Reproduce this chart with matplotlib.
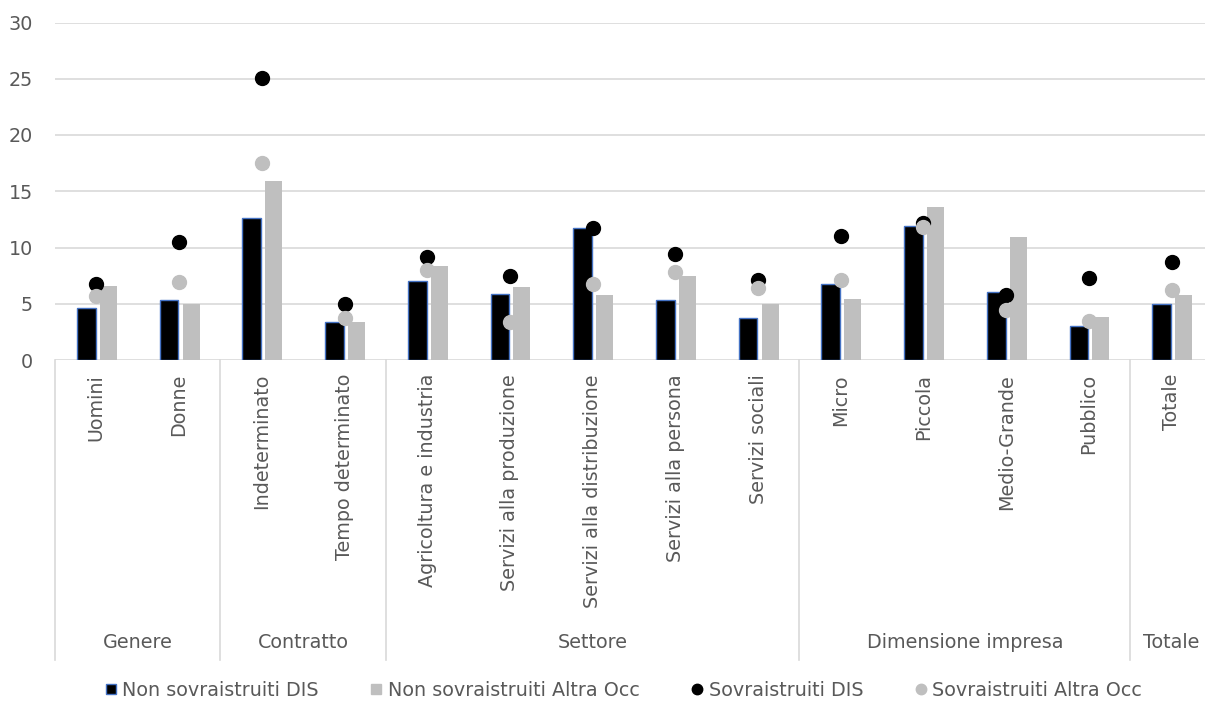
import matplotlib
matplotlib.use("Agg")
import matplotlib.pyplot as plt
from matplotlib.lines import Line2D
import numpy as np

categories = ["Uomini", "Donne", "Indeterminato", "Tempo determinato",
              "Agricoltura e industria", "Servizi alla produzione",
              "Servizi alla distribuzione", "Servizi alla persona", "Servizi sociali",
              "Micro", "Piccola", "Medio-Grande", "Pubblico", "Totale"]
groups = ["Genere", "Contratto", "Settore", "Dimensione impresa", "Totale"]
group_sizes = [2, 2, 5, 4, 1]

non_sovr_dis = [4.6, 5.35, 12.65, 3.35, 7.0, 5.85, 11.75, 5.35, 3.75, 6.75, 11.9, 6.05, 3.0, 4.95]
non_sovr_altra = [6.6, 5.0, 15.9, 3.4, 8.4, 6.45, 5.75, 7.5, 5.0, 5.4, 13.6, 10.9, 3.8, 5.75]
sovr_dis = [6.8, 10.5, 25.1, 5.0, 9.2, 7.45, 11.75, 9.45, 7.15, 11.05, 12.2, 5.75, 7.3, 8.75]
sovr_altra = [5.65, 6.9, 17.5, 3.75, 8.0, 3.35, 6.75, 7.85, 6.4, 7.1, 11.8, 4.45, 3.5, 6.25]
yticks = [0, 5, 10, 15, 20, 25, 30]
series_labels = ["Non sovraistruiti DIS", "Non sovraistruiti Altra Occ",
                 "Sovraistruiti DIS", "Sovraistruiti Altra Occ"]

TXT = "#595959"
GRID = "#D9D9D9"
BLACK = "#000000"
GRAY = "#BFBFBF"
EDGE = "#4472C4"
FS = 13.8

W, H = 1205, 704
fig = plt.figure(figsize=(W / 100, H / 100), dpi=100)
x0, x1 = 55, 1213
y0, y1 = 360, 22.5
ax = fig.add_axes([x0 / W, (H - y0) / H, (x1 - x0) / W, (y0 - y1) / H])

n = len(categories)
x = np.arange(n) + 0.5
ax.bar(x - 0.121, non_sovr_dis, width=0.225, color=BLACK, edgecolor=EDGE, linewidth=1.0, zorder=3)
ax.bar(x + 0.145, non_sovr_altra, width=0.205, color=GRAY, linewidth=0, zorder=3)
ax.plot(x, sovr_dis, "o", color=BLACK, markersize=10, zorder=4, linestyle="none")
ax.plot(x, sovr_altra, "o", color=GRAY, markersize=10, zorder=5, linestyle="none")

ax.set_xlim(0, n)
ax.set_ylim(0, 30)
ax.set_yticks(yticks)
ax.set_yticklabels([str(v) for v in yticks], fontsize=FS, color=TXT)
ax.tick_params(axis="y", length=0, pad=16)
ax.set_xticks([])
for s in ax.spines.values():
    s.set_visible(False)
ax.grid(axis="y", color=GRID, linewidth=1.2, zorder=0)
ax.set_axisbelow(True)

# category labels
label_y = (H - 374) / H
for xi, lab in zip(x, categories):
    xf = (x0 + xi * (x1 - x0) / n) / W
    fig.text(xf, label_y, lab, rotation=90, ha="center", va="top",
             fontsize=FS, color=TXT)

# group separators and labels
sep_top = (H - y0) / H
sep_bot = (H - 660) / H
start = 0
bounds = [0]
for g, s in zip(groups, group_sizes):
    mid = start + s / 2
    xf = (x0 + mid * (x1 - x0) / n) / W
    fig.text(xf, (H - 642) / H, g, ha="center", va="center", fontsize=FS, color=TXT)
    start += s
    bounds.append(start)
for b in bounds[:-1]:
    xf = (x0 + b * (x1 - x0) / n) / W
    fig.add_artist(Line2D([xf, xf], [sep_top, sep_bot], color=GRID, linewidth=1.2,
                          transform=fig.transFigure))

handles = [
    Line2D([], [], marker="s", color=BLACK, markeredgecolor=EDGE, markersize=7.5, linestyle="none"),
    Line2D([], [], marker="s", color=GRAY, markersize=7.5, linestyle="none"),
    Line2D([], [], marker="o", color=BLACK, markersize=7.5, linestyle="none"),
    Line2D([], [], marker="o", color=GRAY, markersize=7.5, linestyle="none"),
]
fig.legend(handles, series_labels, loc="center", bbox_to_anchor=(624 / W, (H - 690) / H),
           ncol=4, frameon=False, fontsize=FS, labelcolor=TXT,
           handlelength=0.5, handletextpad=0.35, columnspacing=2.75)

fig.savefig("out.png", dpi=100)
